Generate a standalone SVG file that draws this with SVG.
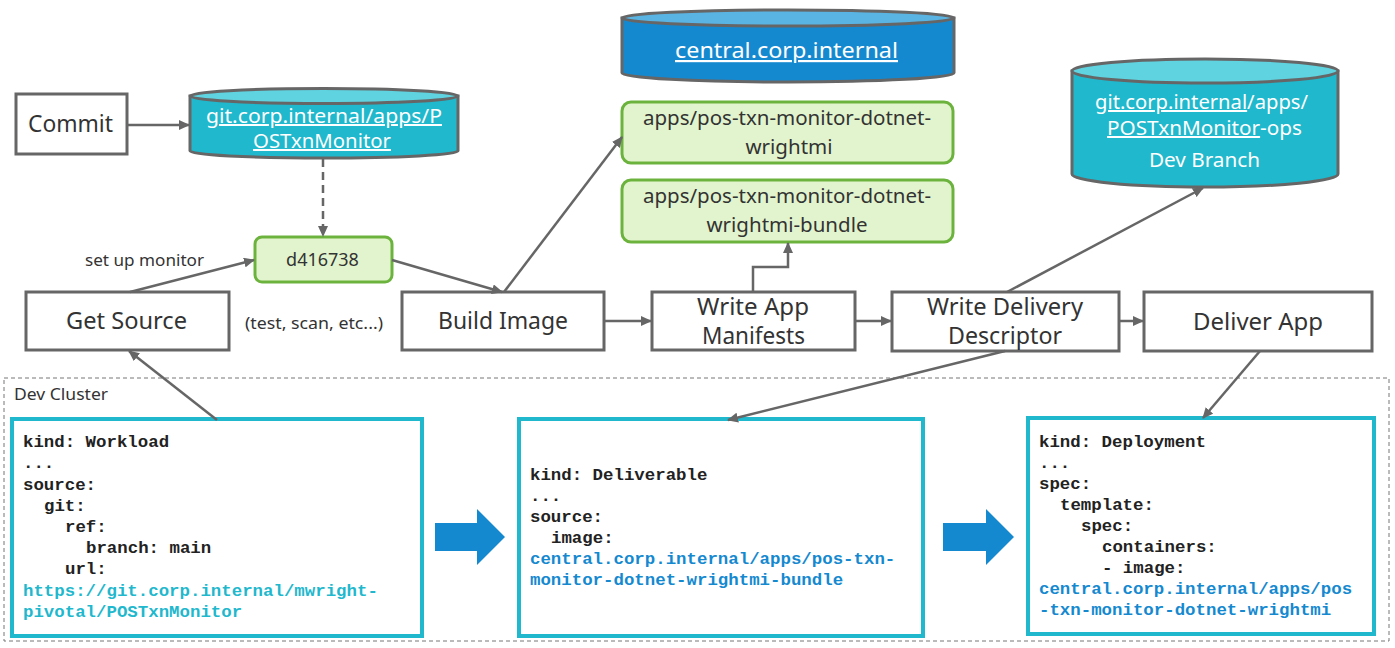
<svg xmlns="http://www.w3.org/2000/svg" width="1395" height="648" viewBox="0 0 1395 648">
<style>
.box{fill:#fff;stroke:#666;stroke-width:3}
.gbox{fill:#e2f4cd;stroke:#6cb33e;stroke-width:3}
.code{fill:#fff;stroke:#1fb8cd;stroke-width:4}
.lbl{font-family:"Noto Sans","Open Sans",sans-serif;font-size:23px;fill:#333;text-anchor:middle}
.glbl{font-family:"Noto Sans","Open Sans",sans-serif;font-size:20.5px;fill:#333;text-anchor:middle}
.sm{font-family:"Noto Sans","Open Sans",sans-serif;font-size:16.5px;fill:#333}
.cyl{font-family:"Noto Sans","Open Sans",sans-serif;font-size:20px;fill:#fff;text-anchor:middle}
.u{text-decoration:underline}
.mono{font-family:"Liberation Mono","Courier New",monospace;font-size:17.4px;font-weight:bold;fill:#222}
.cy{fill:#1fb8cd}
.bl{fill:#1589d0}
.ln{fill:none;stroke:#666;stroke-width:2.5}
</style>
<defs>
<marker id="ah" markerUnits="userSpaceOnUse" markerWidth="11" markerHeight="10" refX="10" refY="5" orient="auto">
<path d="M0,0 L11,5 L0,10 z" fill="#666"/>
</marker>
</defs>

<rect x="4" y="378" width="1385" height="263" fill="none" stroke="#777" stroke-width="1" stroke-dasharray="4,3"/>
<text class="sm" x="14" y="400" textLength="94" lengthAdjust="spacingAndGlyphs">Dev Cluster</text>

<g id="commit">
<rect class="box" x="16" y="94" width="111" height="60"/>
<text class="lbl" x="70.5" y="132" textLength="85" lengthAdjust="spacingAndGlyphs">Commit</text>
</g>

<g id="git-repo">
<path d="M190,96 V151 A134,7 0 0 0 458,151 V96 Z" fill="#20b8cc" stroke="#666" stroke-width="3"/>
<ellipse cx="324" cy="96" rx="134" ry="7.5" fill="#5fd3e0" stroke="#666" stroke-width="3"/>
<text class="cyl u" x="324" y="123" textLength="236" lengthAdjust="spacingAndGlyphs">git.corp.internal/apps/P</text>
<text class="cyl u" x="322" y="148" textLength="138" lengthAdjust="spacingAndGlyphs">OSTxnMonitor</text>
</g>

<g id="central">
<path d="M622,18 V73 A166,9 0 0 0 954,73 V18 Z" fill="#1589d0" stroke="#666" stroke-width="3"/>
<ellipse cx="788" cy="18" rx="166" ry="8" fill="#5ab4e3" stroke="#666" stroke-width="3"/>
<text class="cyl u" x="786.5" y="58" style="font-size:22px" textLength="223" lengthAdjust="spacingAndGlyphs">central.corp.internal</text>
</g>

<g id="git-ops">
<path d="M1072,71 V174 A133,13 0 0 0 1338,174 V71 Z" fill="#20b8cc" stroke="#666" stroke-width="3"/>
<ellipse cx="1205" cy="71" rx="133" ry="12" fill="#5fd3e0" stroke="#666" stroke-width="3"/>
<text class="cyl" x="1201.5" y="109" textLength="213" lengthAdjust="spacingAndGlyphs"><tspan class="u">git.corp.internal</tspan>/apps/</text>
<text class="cyl" x="1204.5" y="135" textLength="195" lengthAdjust="spacingAndGlyphs"><tspan class="u">POSTxnMonitor</tspan>-ops</text>
<text class="cyl" x="1204.5" y="167" textLength="111" lengthAdjust="spacingAndGlyphs">Dev Branch</text>
</g>

<g id="commit-id">
<rect class="gbox" x="255" y="237" width="137" height="45" rx="7"/>
<text class="glbl" x="322.5" y="266" style="font-size:18px">d416738</text>
</g>

<g id="image-box">
<rect class="gbox" x="622" y="102" width="331" height="61" rx="9"/>
<text class="glbl" x="787" y="125">apps/pos-txn-monitor-dotnet-</text>
<text class="glbl" x="789" y="154">wrightmi</text>
</g>

<g id="bundle-box">
<rect class="gbox" x="622" y="180" width="331" height="62" rx="9"/>
<text class="glbl" x="787" y="203">apps/pos-txn-monitor-dotnet-</text>
<text class="glbl" x="787" y="232">wrightmi-bundle</text>
</g>

<text class="sm" x="85" y="266" textLength="119" lengthAdjust="spacingAndGlyphs">set up monitor</text>
<text class="sm" x="245" y="329" textLength="138" lengthAdjust="spacingAndGlyphs">(test, scan, etc...)</text>

<g id="get-source">
<rect class="box" x="26" y="292" width="203" height="58"/>
<text class="lbl" x="126.5" y="329" textLength="121" lengthAdjust="spacingAndGlyphs">Get Source</text>
</g>

<g id="build-image">
<rect class="box" x="402" y="292" width="202" height="58"/>
<text class="lbl" x="503" y="329" textLength="130" lengthAdjust="spacingAndGlyphs">Build Image</text>
</g>

<g id="write-app">
<rect class="box" x="652" y="292" width="203" height="58"/>
<text class="lbl" x="753" y="315" textLength="112" lengthAdjust="spacingAndGlyphs">Write App</text>
<text class="lbl" x="753.5" y="344" textLength="103" lengthAdjust="spacingAndGlyphs">Manifests</text>
</g>

<g id="write-delivery">
<rect class="box" x="892" y="292" width="227" height="59"/>
<text class="lbl" x="1005" y="315" textLength="156" lengthAdjust="spacingAndGlyphs">Write Delivery</text>
<text class="lbl" x="1005" y="344" textLength="114" lengthAdjust="spacingAndGlyphs">Descriptor</text>
</g>

<g id="deliver-app">
<rect class="box" x="1144" y="292" width="228" height="59"/>
<text class="lbl" x="1258" y="330" textLength="130" lengthAdjust="spacingAndGlyphs">Deliver App</text>
</g>

<g id="workload">
<rect class="code" x="12" y="419" width="410" height="217"/>
<text class="mono" x="23" y="447">kind: Workload</text>
<text class="mono" x="23" y="468">...</text>
<text class="mono" x="23" y="490">source:</text>
<text class="mono" x="44" y="511">git:</text>
<text class="mono" x="65" y="532">ref:</text>
<text class="mono" x="86" y="553">branch: main</text>
<text class="mono" x="65" y="574">url:</text>
<text class="mono cy" x="23" y="596">https://git.corp.internal/mwright-</text>
<text class="mono cy" x="23" y="617">pivotal/POSTxnMonitor</text>
</g>

<g id="deliverable">
<rect class="code" x="519" y="419" width="404" height="217"/>
<text class="mono" x="530" y="480">kind: Deliverable</text>
<text class="mono" x="530" y="501">...</text>
<text class="mono" x="530" y="522">source:</text>
<text class="mono" x="551" y="543">image:</text>
<text class="mono bl" x="530" y="564">central.corp.internal/apps/pos-txn-</text>
<text class="mono bl" x="530" y="585">monitor-dotnet-wrightmi-bundle</text>
</g>

<g id="deployment">
<rect class="code" x="1028" y="418" width="346" height="216"/>
<text class="mono" x="1039" y="447">kind: Deployment</text>
<text class="mono" x="1039" y="468">...</text>
<text class="mono" x="1039" y="489">spec:</text>
<text class="mono" x="1060" y="510">template:</text>
<text class="mono" x="1081" y="531">spec:</text>
<text class="mono" x="1102" y="552">containers:</text>
<text class="mono" x="1102" y="573">- image:</text>
<text class="mono bl" x="1039" y="594">central.corp.internal/apps/pos</text>
<text class="mono bl" x="1039" y="615">-txn-monitor-dotnet-wrightmi</text>
</g>

<g id="flow-arrows">
<path d="M435,523 H477 V509 L505,537 L477,565 V551 H435 Z" fill="#1589d0"/>
<path d="M943,523 H986 V509 L1014,537 L986,565 V551 H943 Z" fill="#1589d0"/>
</g>

<g id="connectors">
<line class="ln" x1="127" y1="125" x2="189" y2="125" marker-end="url(#ah)"/>
<line class="ln" x1="323" y1="159" x2="323" y2="236" stroke-dasharray="8,5" marker-end="url(#ah)"/>
<line class="ln" x1="130" y1="292" x2="254" y2="260" marker-end="url(#ah)"/>
<line class="ln" x1="392" y1="260" x2="502" y2="292" marker-end="url(#ah)"/>
<line class="ln" x1="504" y1="292" x2="622" y2="137" marker-end="url(#ah)"/>
<line class="ln" x1="604" y1="321" x2="651" y2="321" marker-end="url(#ah)"/>
<path class="ln" d="M753,292 V267 H788 V243" marker-end="url(#ah)"/>
<line class="ln" x1="855" y1="321" x2="891" y2="321" marker-end="url(#ah)"/>
<line class="ln" x1="1119" y1="321" x2="1143" y2="321" marker-end="url(#ah)"/>
<line class="ln" x1="1007" y1="292" x2="1203" y2="188" marker-end="url(#ah)"/>
<line class="ln" x1="1005" y1="351" x2="728" y2="420" marker-end="url(#ah)"/>
<line class="ln" x1="1260" y1="351" x2="1203" y2="418" marker-end="url(#ah)"/>
<line class="ln" x1="217" y1="420" x2="129" y2="351" marker-end="url(#ah)"/>
</g>
</svg>
